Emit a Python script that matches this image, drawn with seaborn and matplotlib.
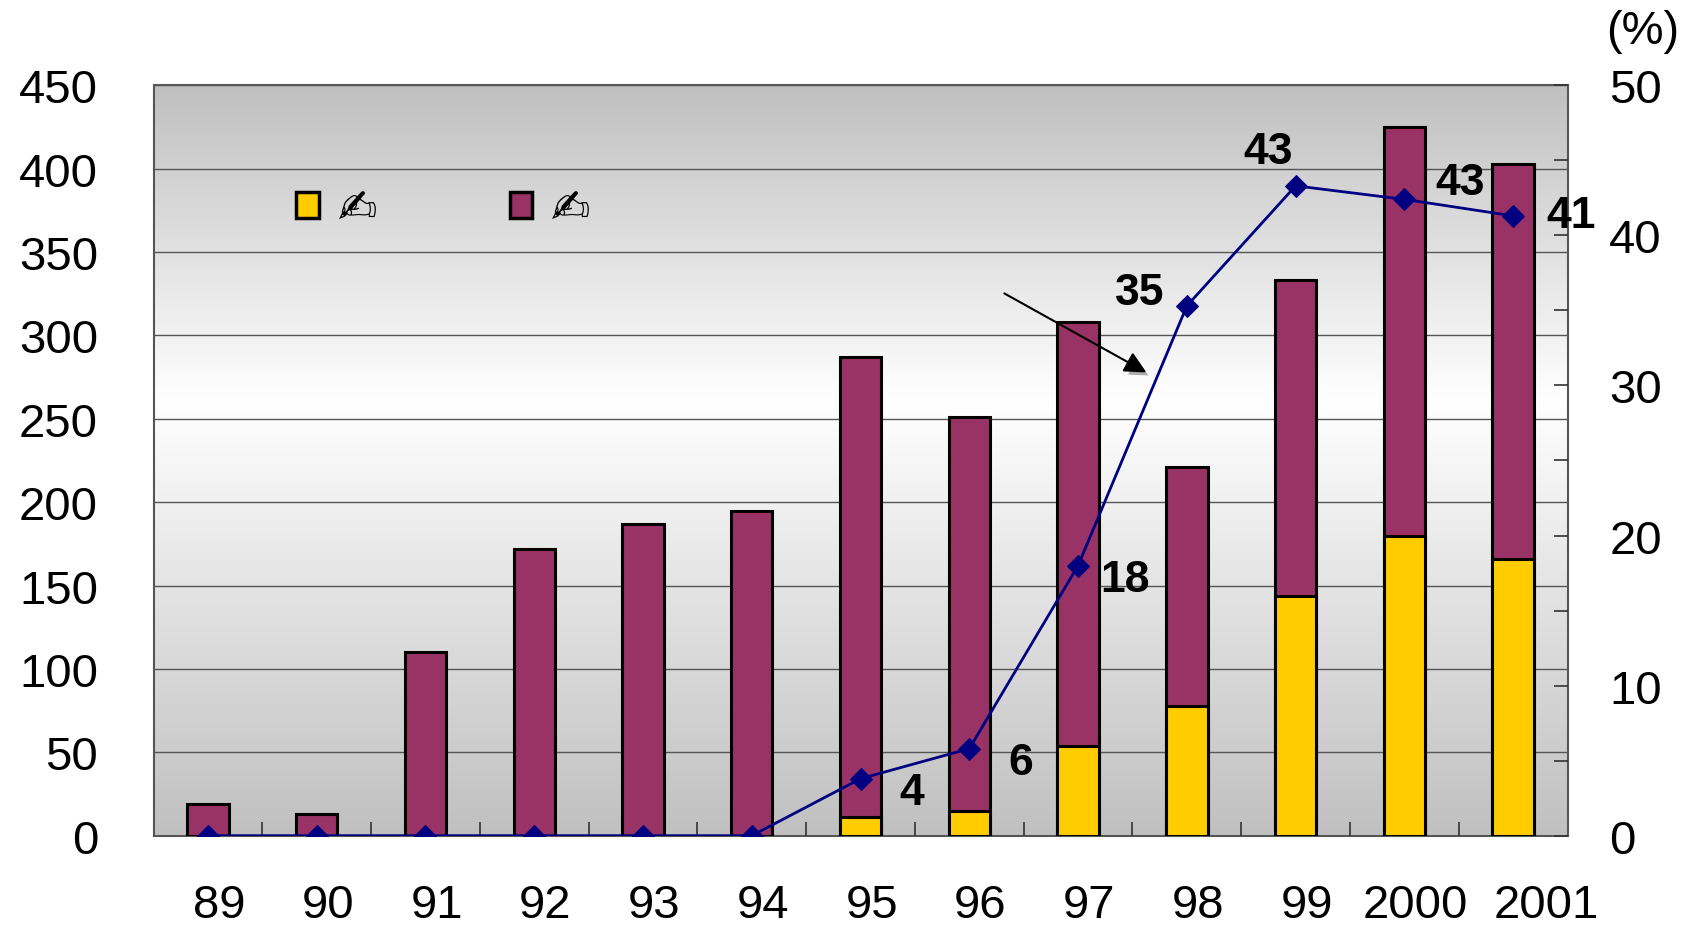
import numpy as np
import pandas as pd
import matplotlib
matplotlib.use("Agg")
import matplotlib.pyplot as plt
import matplotlib.transforms as mtransforms
import matplotlib.patheffects as pe
import seaborn as sns
from matplotlib.patches import Patch
from matplotlib.colors import LinearSegmentedColormap

# ---- data ----
years = ["89", "90", "91", "92", "93", "94", "95", "96", "97", "98", "99", "2000", "2001"]
total = [19, 13, 110, 172, 187, 195, 287, 251, 308, 221, 333, 425, 403]
yellow = [0, 0, 0, 0, 0, 0, 11, 15, 54, 78, 144, 180, 166]
share = [0, 0, 0, 0, 0, 0, 3.8, 5.8, 18.0, 35.3, 43.3, 42.4, 41.3]
share_labels = {6: "4", 7: "6", 8: "18", 9: "35", 10: "43", 11: "43", 12: "41"}
legend_labels = ["\u270d", "\u270d"]

sns.set_theme(style="white")
plt.rcParams["font.family"] = ["Liberation Sans", "DejaVu Sans"]
plt.rcParams["text.color"] = "black"
plt.rcParams["xtick.color"] = "black"
plt.rcParams["ytick.color"] = "black"
plt.rcParams["axes.labelcolor"] = "black"

fig = plt.figure(figsize=(16.95, 9.28), dpi=100)
ax = fig.add_axes([0.0906, 0.0984, 0.8342, 0.8086])

# gradient background
cmap = LinearSegmentedColormap.from_list(
    "bg", [(0, "#c0c0c0"), (0.58, "#ffffff"), (1, "#c0c0c0")])
grad = np.linspace(0, 1, 256).reshape(-1, 1)
ax.imshow(grad, extent=[0, 1, 0, 1], transform=ax.transAxes, aspect="auto",
          cmap=cmap, origin="lower", zorder=0)

df = pd.DataFrame({"year": years, "total": total, "yellow": yellow, "share": share})
sns.barplot(data=df, x="year", y="total", color="#993366", saturation=1,
            width=0.38, edgecolor="black", linewidth=2.2, ax=ax, zorder=3)
sns.barplot(data=df, x="year", y="yellow", color="#ffcc00", saturation=1,
            width=0.38, edgecolor="black", linewidth=2.2, ax=ax, zorder=4)
for p in ax.patches:
    if p.get_height() == 0:
        p.set_visible(False)

ax.set_xlim(-0.5, len(years) - 0.5)
ax.set_ylim(0, 450)
ax.set_yticks(np.arange(0, 451, 50))
ax.yaxis.grid(True, color="#555555", linewidth=1.0, zorder=1)
ax.set_axisbelow(False)
for l in ax.get_ygridlines():
    l.set_zorder(1)
ax.set_xlabel("")
ax.set_ylabel("")
ax.tick_params(axis="y", labelsize=34, pad=40, length=0, colors="black")
ax.set_xticks(np.arange(len(years)))
ax.set_xticklabels(years)
ax.tick_params(axis="x", which="major", labelsize=34, pad=34, length=0, colors="black")
ax.set_xticks(np.arange(0.5, len(years) - 0.5, 1), minor=True)
ax.tick_params(axis="x", which="minor", direction="in", length=10, width=1.2,
               color="#333333", bottom=True)
xlabels = ax.get_xticklabels()
for k, lab in enumerate(xlabels):
    dx = 8 if k < len(xlabels) - 1 else 24
    shift = mtransforms.ScaledTranslation(dx / 72, 0, fig.dpi_scale_trans)
    lab.set_transform(lab.get_transform() + shift)
for s in ax.spines.values():
    s.set_color("#555555")
    s.set_linewidth(1.5)
    s.set_visible(True)

# legend
handles = [Patch(facecolor="#ffcc00", edgecolor="black", linewidth=2.5),
           Patch(facecolor="#993366", edgecolor="black", linewidth=2.5)]
leg = ax.legend(handles, legend_labels, loc="center left", bbox_to_anchor=(0.101, 0.835),
                ncol=2, frameon=False, handlelength=0.48, handleheight=0.48,
                columnspacing=2.8, handletextpad=0.4, fontsize=34,
                borderpad=0, borderaxespad=0)
for t in leg.get_texts():
    t.set_family("DejaVu Sans")
    t.set_color("black")

# share line
ax2 = ax.twinx()
sns.lineplot(x=np.arange(len(years)), y=share, ax=ax2, color="#000080",
             linewidth=2, marker="D", markersize=11, markeredgecolor="#000080",
             zorder=6)
ax2.set_ylim(0, 50)
ax2.set_yticks(np.arange(0, 51, 10))
ax2.set_yticks(np.arange(0, 51, 5), minor=True)
ax2.tick_params(axis="y", which="both", direction="in", length=10, width=1.2,
                labelsize=34, pad=30, color="#333333", labelcolor="black", right=True)
ax2.tick_params(axis="y", which="minor", labelright=False)
ax2.grid(False)
for s in ax2.spines.values():
    s.set_visible(False)

offsets = {6: (37, -10), 7: (37, -10), 8: (34, -10), 9: (-34, 10),
           10: (-20, 25), 11: (40, 12), 12: (42, 0)}
for i, txt in share_labels.items():
    ax2.annotate(txt, (i, share[i]), xytext=offsets[i], textcoords="offset points",
                 ha="center", va="center", fontsize=32, fontweight="bold",
                 color="black", zorder=7)

# arrow
arr = ax.annotate("", xy=(8.65, 277), xytext=(7.30, 326),
                  arrowprops=dict(arrowstyle="-|>,head_length=1.1,head_width=0.55",
                                  color="black", lw=1.5), zorder=8)
arr.arrow_patch.set_path_effects([
    pe.SimplePatchShadow(offset=(3, -3), shadow_rgbFace="#aaaaaa", alpha=1.0),
    pe.Normal()])

fig.text(0.969, 0.966, "(%)", fontsize=34, ha="center", va="center")

fig.savefig("out.png", dpi=100, facecolor="white")
